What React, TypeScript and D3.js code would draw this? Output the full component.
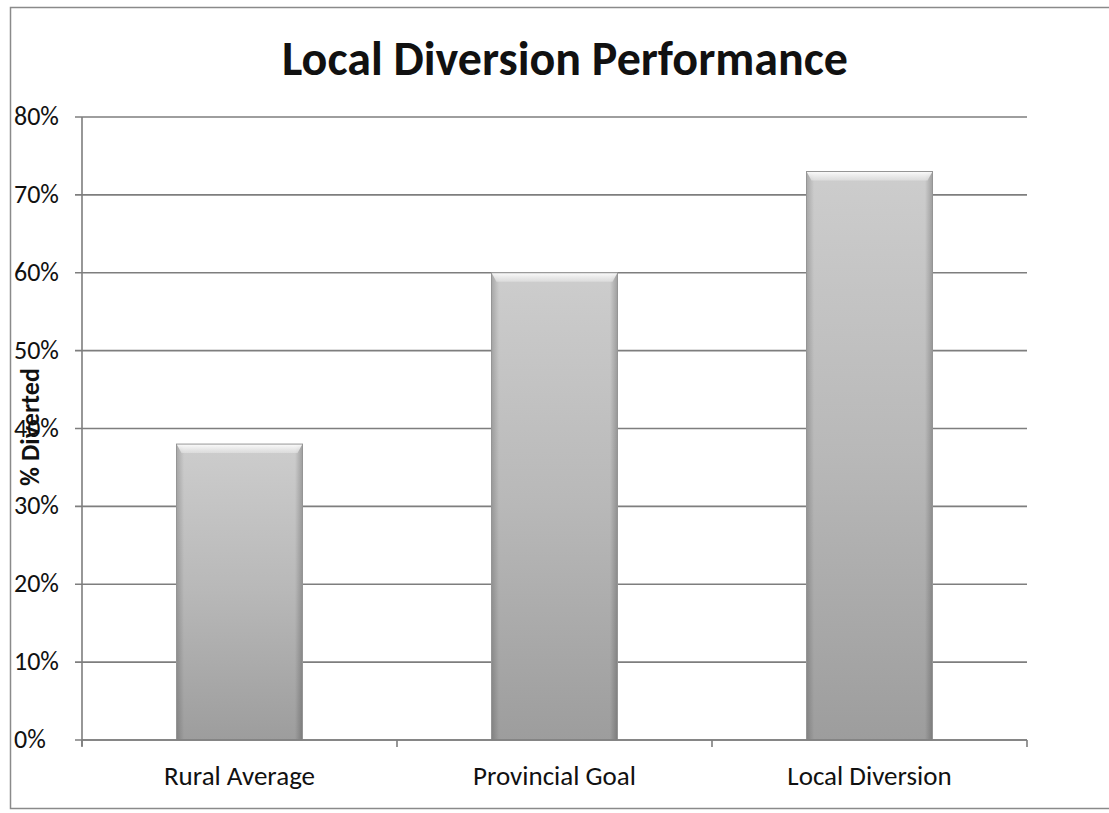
import React from "react";
import * as d3 from "d3";

const categories = ["Rural Average", "Provincial Goal", "Local Diversion"];
const diverted = [0.38, 0.6, 0.73];
const yTicks = [0, 0.1, 0.2, 0.3, 0.4, 0.5, 0.6, 0.7, 0.8];

const W = 1109;
const H = 813;
const plot = { left: 82, right: 1027, top: 117, bottom: 740 };
const FONT = "Carlito, Calibri, Lato, 'Open Sans', sans-serif";

export default function App() {
  const x = d3
    .scaleBand<string>()
    .domain(categories)
    .range([plot.left, plot.right])
    .paddingInner(0.6)
    .paddingOuter(0.3);
  const band = d3.scaleBand<string>().domain(categories).range([plot.left, plot.right]);
  const y = d3.scaleLinear().domain([0, 0.8]).range([plot.bottom, plot.top]);
  const fmt = d3.format(".0%");
  const grid = "#7e7e7e";

  const boundaries = [plot.left, ...categories.map((c) => (band(c) as number) + band.bandwidth())];

  return (
    <div style={{ position: "absolute", left: 0, top: 0 }}>
      <svg width={W} height={H} style={{ display: "block", background: "#fff" }}>
        <defs>
          <linearGradient id="barV" x1="0" y1="0" x2="0" y2="1">
            <stop offset="0" stopColor="#cdcdcd" />
            <stop offset="0.5" stopColor="#b8b8b8" />
            <stop offset="1" stopColor="#9d9d9d" />
          </linearGradient>
          <linearGradient id="barH" x1="0" y1="0" x2="1" y2="0">
            <stop offset="0" stopColor="#000" stopOpacity="0.18" />
            <stop offset="0.06" stopColor="#000" stopOpacity="0" />
            <stop offset="0.94" stopColor="#000" stopOpacity="0" />
            <stop offset="1" stopColor="#000" stopOpacity="0.22" />
          </linearGradient>
          <linearGradient id="bevel" x1="0" y1="0" x2="0" y2="1">
            <stop offset="0" stopColor="#ffffff" stopOpacity="0.95" />
            <stop offset="1" stopColor="#e6e6e6" stopOpacity="0.6" />
          </linearGradient>
        </defs>

        {/* chart frame */}
        <rect x={10.5} y={7.5} width={1120} height={801} fill="none" stroke="#8a8a8a" strokeWidth={1.5} />

        {/* title */}
        <text x={565} y={75} textAnchor="middle" fontFamily={FONT} fontWeight={700} fontSize={48} fill="#111">
          Local Diversion Performance
        </text>

        {/* horizontal gridlines and tick labels */}
        {yTicks.map((t) => (
          <g key={t}>
            <line x1={plot.left - 7} x2={plot.right} y1={y(t)} y2={y(t)} stroke={grid} strokeWidth={1.6} />
            <text x={14} y={y(t) + 8} fontFamily={FONT} fontSize={26} fill="#111">
              {fmt(t)}
            </text>
          </g>
        ))}

        {/* axes */}
        <line x1={plot.left} x2={plot.left} y1={plot.top} y2={plot.bottom + 6} stroke={grid} strokeWidth={1.6} />
        {boundaries.map((b, i) => (
          <line key={i} x1={b} x2={b} y1={plot.bottom} y2={plot.bottom + 7} stroke={grid} strokeWidth={1.6} />
        ))}

        {/* bars */}
        {categories.map((c, i) => {
          const bx = x(c) as number;
          const bw = x.bandwidth();
          const top = y(diverted[i]);
          const h = plot.bottom - top;
          const bev = 9;
          return (
            <g key={c}>
              <rect x={bx} y={top} width={bw} height={h} fill="url(#barV)" />
              <rect x={bx} y={top} width={bw} height={h} fill="url(#barH)" />
              <path
                d={`M${bx},${top} L${bx + bw},${top} L${bx + bw - 5},${top + bev} L${bx + 5},${top + bev} Z`}
                fill="url(#bevel)"
              />
              <rect x={bx} y={top} width={bw} height={h} fill="none" stroke="#959595" strokeWidth={1} />
            </g>
          );
        })}

        {/* x axis line drawn above bars */}
        <line x1={plot.left} x2={plot.right} y1={plot.bottom} y2={plot.bottom} stroke={grid} strokeWidth={1.6} />

        {/* category labels */}
        {categories.map((c) => (
          <text
            key={c}
            x={(band(c) as number) + band.bandwidth() / 2}
            y={785}
            textAnchor="middle"
            fontFamily={FONT}
            fontSize={27}
            fill="#111"
          >
            {c}
          </text>
        ))}

        {/* y axis title */}
        <text
          transform={`translate(39, 427) rotate(-90)`}
          textAnchor="middle"
          fontFamily={FONT}
          fontWeight={700}
          fontSize={26}
          fill="#111"
        >
          % Diverted
        </text>
      </svg>
    </div>
  );
}
